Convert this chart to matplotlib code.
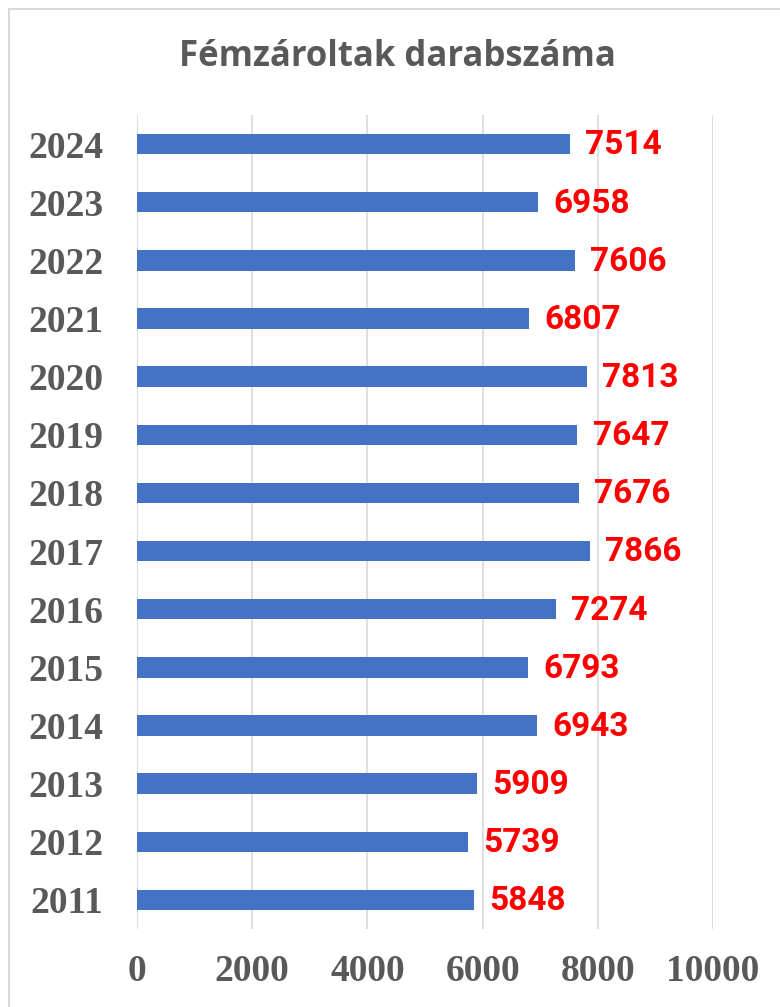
import matplotlib
matplotlib.use("Agg")
import matplotlib.pyplot as plt
from matplotlib.patches import Rectangle

# data
years = ["2011", "2012", "2013", "2014", "2015", "2016", "2017",
         "2018", "2019", "2020", "2021", "2022", "2023", "2024"]
counts = [5848, 5739, 5909, 6943, 6793, 7274, 7866,
          7676, 7647, 7813, 6807, 7606, 6958, 7514]
xticks = [0, 2000, 4000, 6000, 8000, 10000]

bar_color = "#4472C4"
text_gray = "#595959"
grid_gray = "#D9D9D9"

fig = plt.figure(figsize=(7.8, 10.07), dpi=100)

# light frame around the chart area (runs off the right/bottom edge)
fig.patches.append(Rectangle((9 / 780, -0.05), 1.0, 1.05 - 9 / 1007,
                             transform=fig.transFigure, fill=False,
                             edgecolor=grid_gray, linewidth=1.5))

ax = fig.add_axes([137 / 780, 78 / 1007, 576 / 780, 814 / 1007])

pos = list(range(len(years)))
ax.barh(pos, counts, height=0.35, color=bar_color, zorder=3)

for p, v in zip(pos, counts):
    ax.annotate(str(v), xy=(v, p), xytext=(11, -1), textcoords="offset points",
                ha="left", va="center", color="#FF0000", fontsize=24,
                fontweight="bold", family="Roboto", zorder=4)

ax.set_xlim(0, 10000)
ax.set_ylim(-0.5, len(years) - 0.5)
ax.set_xticks(xticks)
ax.set_xticklabels([str(t) for t in xticks])
ax.set_yticks(pos)
ax.set_yticklabels(years)

for lab in ax.get_xticklabels() + ax.get_yticklabels():
    lab.set_family("Liberation Serif")
    lab.set_fontweight("bold")
    lab.set_fontsize(27)
    lab.set_color(text_gray)

ax.tick_params(axis="y", length=0, pad=24)
ax.tick_params(axis="x", length=0, pad=18)

ax.grid(axis="x", color=grid_gray, linewidth=1.2, zorder=0)
ax.set_axisbelow(True)
for s in ax.spines.values():
    s.set_visible(False)

fig.text(0.51, 1 - 57 / 1007, "Fémzároltak darabszáma", ha="center", va="center",
         fontsize=25, fontweight="bold", color=text_gray, family="Open Sans")

fig.savefig("out.png", dpi=100)
